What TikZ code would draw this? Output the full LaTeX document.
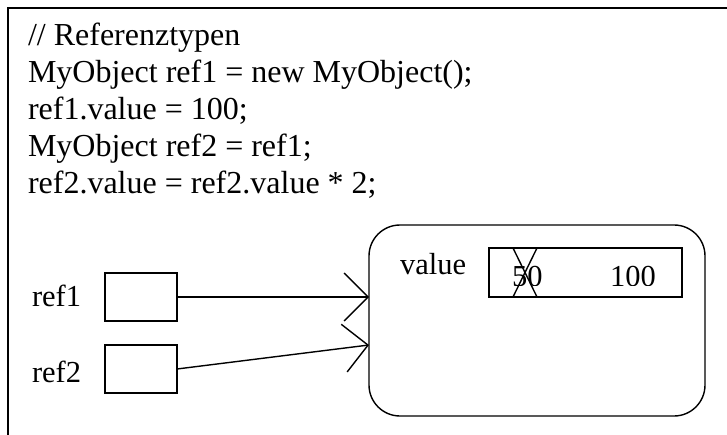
\documentclass[tikz,border=0pt]{standalone}
\usepackage{fontspec}
\setmainfont{Liberation Serif}
\usetikzlibrary{arrows.meta}
\tikzset{
  every node/.style={inner sep=0pt, outer sep=0pt, font=\fontsize{30.5}{37}\selectfont},
  codeline/.style={anchor=base west, font=\fontsize{32}{37}\selectfont},
  label/.style={anchor=base west},
  refbox/.style={draw, line width=1.4pt, minimum width=72pt, minimum height=48pt, anchor=north west},
  pointer/.style={line width=1.4pt, -{Straight Barb[length=24pt, width=48pt, line width=1.4pt]}},
  thin line/.style={line width=1.4pt}
}
\begin{document}
\begin{tikzpicture}[x=1pt, y=-1pt]
  \useasboundingbox (0,0) rectangle (727,435);

  % outer frame (top and left edges)
  \draw[thin line] (8,435) -- (8,8) -- (727,8);

  % source code
  \node[codeline] (c1) at (28,46)  {// Referenztypen};
  \node[codeline] (c2) at (28,83)  {MyObject ref1 = new MyObject();};
  \node[codeline] (c3) at (28,120) {ref1.value = 100;};
  \node[codeline] (c4) at (28,157) {MyObject ref2 = ref1;};
  \node[codeline] (c5) at (28,194) {ref2.value = ref2.value * 2;};

  % reference variables
  \node[label] (l1) at (32,306) {ref1};
  \node[label] (l2) at (32,382) {ref2};
  \node[refbox] (r1) at (105,273) {};
  \node[refbox] (r2) at (105,345) {};

  % the object on the heap
  \node[draw, line width=1.4pt, rounded corners=31pt, anchor=north west,
        minimum width=336pt, minimum height=191pt] (obj) at (369,225) {};
  \node[label] (vl) at (400,275) {value};
  \node[draw, line width=1.4pt, anchor=north west,
        minimum width=193pt, minimum height=49pt] (vbox) at (489,248) {};
  \begin{scope}
    \clip (489,248) rectangle (682,285);
    \node[label] (old) at (512,286) {50};
    \node[label] (new) at (610,286) {100};
  \end{scope}
  % old value struck out
  \coordinate (xa) at (513,248);
  \coordinate (xb) at (537,297);
  \coordinate (xc) at (537,248);
  \coordinate (xd) at (513,297);
  \draw[thin line] (xa) -- (xb);
  \draw[thin line] (xc) -- (xd);

  % both references point to the same object
  \coordinate (t1) at (obj.west |- r1.east);
  \coordinate (t2) at (369,345);
  \draw[pointer] (r1.east) -- (t1);
  \draw[pointer] (r2.east) -- (t2);
\end{tikzpicture}
\end{document}
